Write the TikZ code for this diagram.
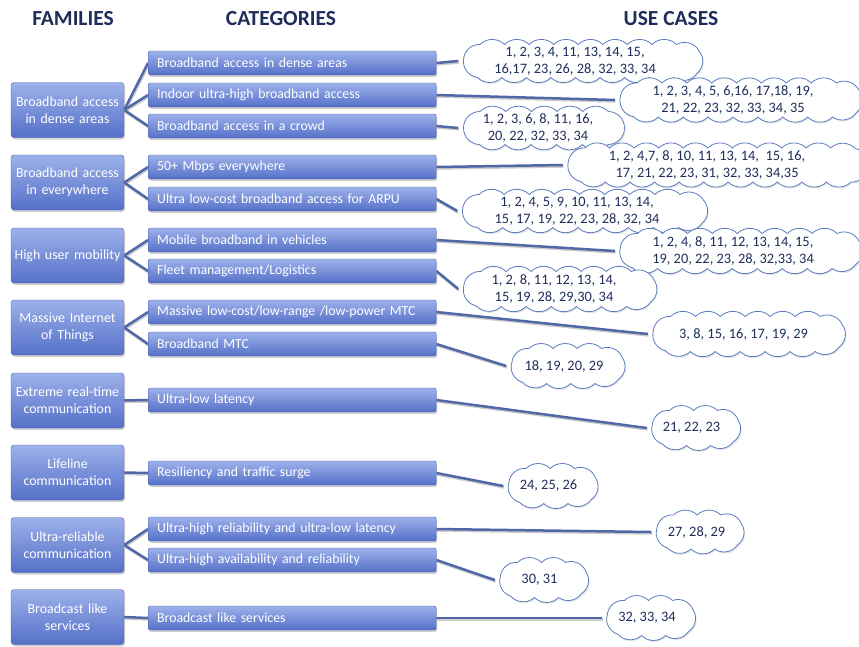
\documentclass[tikz,border=0pt]{standalone}
\usepackage{fontspec}
\setmainfont{Carlito}
\usetikzlibrary{shapes.geometric,shadows,backgrounds}

\definecolor{boxtop}{HTML}{9DB1EA}
\definecolor{boxbot}{HTML}{5570C8}
\definecolor{boxline}{HTML}{4A62AE}
\definecolor{linkcol}{HTML}{5068A8}
\definecolor{navy}{HTML}{1F2D5A}
\definecolor{cloudline}{HTML}{5B7DC0}

\tikzset{
    family/.style={draw=boxline, rounded corners=3pt, top color=boxtop,
        bottom color=boxbot, text=white, minimum width=113pt,
        minimum height=55pt, text width=110pt, inner xsep=1.5pt,
        align=center, font=\fontsize{13.9}{17}\selectfont,
        drop shadow={opacity=0.35, shadow xshift=1pt, shadow yshift=-2pt}},
    category/.style={draw=boxline, rounded corners=2pt, top color=boxtop,
        bottom color=boxbot, text=white, anchor=west, minimum height=24pt,
        text width=270pt, inner xsep=9pt, inner ysep=0pt, align=left,
        font=\fontsize{13.8}{15}\selectfont,
        drop shadow={opacity=0.35, shadow xshift=1pt, shadow yshift=-2pt}},
    usecase/.style={ellipse, inner sep=0pt},
    puff/.style={draw=cloudline, line width=0.8pt, fill=white,
        drop shadow={opacity=0.2, shadow xshift=1pt, shadow yshift=-1.5pt}},
    cases/.style={text=navy, align=center, inner sep=0pt,
        font=\fontsize{14.4}{17}\selectfont},
    heading/.style={text=navy, font=\fontsize{21.5}{24}\selectfont\bfseries},
    link/.style={draw=linkcol, line width=2.5pt,
        preaction={draw=black!20, line width=2.5pt,
            transform canvas={xshift=0.8pt, yshift=-1.5pt}}}
}

% cloud: name, centre x, centre y, outer width, outer height
\newcommand\puffcloud[5]{%
  \node[usecase, minimum width=#4pt, minimum height=#5pt] (#1) at (#2,#3) {};
  \pgfmathsetmacro\pa{#4/2-5}\pgfmathsetmacro\pb{#5/2-5}
  \pgfmathsetmacro\pl{2*(\pa-\pb)}
  \pgfmathsetmacro\pq{\pl+pi*\pb}
  \pgfmathsetmacro\pr{2*\pl+pi*\pb}
  \pgfmathsetmacro\pp{2*\pl+2*pi*\pb}
  \pgfmathtruncatemacro\pn{round(\pp/25)}
  \pgfmathsetmacro\pw{\pp/\pn}
  \foreach \k in {0,...,\pn} {
    \pgfmathsetmacro\s{\k*\pw}
    \ifdim\s pt<\pl pt
      \pgfmathsetmacro\px{-\pl/2+\s}\pgfmathsetmacro\py{-\pb}
    \else\ifdim\s pt<\pq pt
      \pgfmathsetmacro\px{\pl/2+\pb*sin(deg((\s-\pl)/\pb))}
      \pgfmathsetmacro\py{-\pb*cos(deg((\s-\pl)/\pb))}
    \else\ifdim\s pt<\pr pt
      \pgfmathsetmacro\px{\pl/2-(\s-\pq)}\pgfmathsetmacro\py{\pb}
    \else
      \pgfmathsetmacro\px{-\pl/2-\pb*sin(deg((\s-\pr)/\pb))}
      \pgfmathsetmacro\py{\pb*cos(deg((\s-\pr)/\pb))}
    \fi\fi\fi
    \coordinate (q\k) at (#2+\px,#3+\py);
  }
  \draw[puff] (q0) \foreach \k in {1,...,\pn} { to[bend left=45] (q\k) };
}

\begin{document}
\begin{tikzpicture}[x=1pt, y=-1pt]
\useasboundingbox (0,0) rectangle (859,646);
\clip (0,0) rectangle (859,646);

% column headings
\node[heading] (hfam) at (73,19) {FAMILIES};
\node[heading] (hcat) at (281,19) {CATEGORIES};
\node[heading] (huse) at (671,19) {USE CASES};

% families
\node[family] (f1) at (67.5,110) {Broadband access\\in dense areas};
\node[family] (f2) at (67.5,182.5) {Broadband access\\in everywhere};
\node[family] (f3) at (67.5,255.5) {High user mobility};
\node[family] (f4) at (67.5,327.5) {Massive Internet\\of Things};
\node[family] (f5) at (67.5,400.5) {Extreme real-time\\communication};
\node[family] (f6) at (67.5,472.5) {Lifeline\\communication};
\node[family] (f7) at (67.5,545) {Ultra-reliable\\communication};
\node[family] (f8) at (67.5,617) {Broadcast like\\services};

% categories
\node[category] (c1) at (148,63) {Broadband access in dense areas};
\node[category] (c2) at (148,95) {Indoor ultra-high broadband access};
\node[category] (c3) at (148,126) {Broadband access in a crowd};
\node[category] (c4) at (148,167) {50+ Mbps everywhere};
\node[category] (c5) at (148,199) {Ultra low-cost broadband access for ARPU};
\node[category] (c6) at (148,240) {Mobile broadband in vehicles};
\node[category] (c7) at (148,271) {Fleet management/Logistics};
\node[category] (c8) at (148,312) {Massive low-cost/low-range /low-power MTC};
\node[category] (c9) at (148,344) {Broadband MTC};
\node[category] (c10) at (148,400) {Ultra-low latency};
\node[category] (c11) at (148,473) {Resiliency and traffic surge};
\node[category] (c12) at (148,529) {Ultra-high reliability and ultra-low latency};
\node[category] (c13) at (148,560) {Ultra-high availability and reliability};
\node[category] (c14) at (148,618) {Broadcast like services};

% use case clouds
\puffcloud{u1}{583}{61}{249}{43}
\puffcloud{u2}{741}{100}{252}{44}
\puffcloud{u3}{544}{128}{171}{43}
\puffcloud{u4}{718}{165}{310}{44}
\puffcloud{u5}{585}{211}{255}{43}
\puffcloud{u6}{741}{251}{252}{45}
\puffcloud{u7}{560}{289}{203}{45}
\puffcloud{u8}{749}{334}{202}{45}
\puffcloud{u9}{568}{366}{123}{45}
\puffcloud{u10}{696}{428}{98}{45}
\puffcloud{u11}{553}{486}{99}{45}
\puffcloud{u12}{700}{532}{97}{44}
\puffcloud{u13}{544}{580}{98}{45}
\puffcloud{u14}{651}{618}{98}{45}

% use case numbers
\node[cases] (t1) at (575,61) {1, 2, 3, 4, 11, 13, 14, 15,\\16,17, 23, 26, 28, 32, 33, 34};
\node[cases] (t2) at (733,100) {1, 2, 3, 4, 5, 6,16, 17,18, 19,\\21, 22, 23, 32, 33, 34, 35};
\node[cases] (t3) at (538,128) {1, 2, 3, 6, 8, 11, 16,\\20, 22, 32, 33, 34};
\node[cases] (t4) at (707,165) {1, 2, 4,7, 8, 10, 11, 13, 14,\ \ 15, 16,\\17, 21, 22, 23, 31, 32, 33, 34,35};
\node[cases] (t5) at (577,211) {1, 2, 4, 5, 9, 10, 11, 13, 14,\\15, 17, 19, 22, 23, 28, 32, 34};
\node[cases] (t6) at (733,251) {1, 2, 4, 8, 11, 12, 13, 14, 15,\\19, 20, 22, 23, 28, 32,33, 34};
\node[cases] (t7) at (554,289) {1, 2, 8, 11, 12, 13, 14,\\15, 19, 28, 29,30, 34};
\node[cases] (t8) at (743.5,334) {3, 8, 15, 16, 17, 19, 29};
\node[cases] (t9) at (564,366) {18, 19, 20, 29};
\node[cases] (t10) at (691.5,428) {21, 22, 23};
\node[cases] (t11) at (548.5,486) {24, 25, 26};
\node[cases] (t12) at (696.5,532) {27, 28, 29};
\node[cases] (t13) at (539.5,580) {30, 31};
\node[cases] (t14) at (647,618) {32, 33, 34};

\begin{pgfonlayer}{background}
% family -> category
\foreach \f/\c in {f1/c1, f1/c2, f1/c3, f2/c4, f2/c5, f3/c6, f3/c7,
        f4/c8, f4/c9, f5/c10, f6/c11, f7/c12, f7/c13, f8/c14}
    \draw[link] (\f.east) -- (\c.west);

% category -> use cases
\foreach \i in {1,...,14}
    \draw[link] (c\i.east) -- (u\i.west);
\end{pgfonlayer}

\end{tikzpicture}
\end{document}
